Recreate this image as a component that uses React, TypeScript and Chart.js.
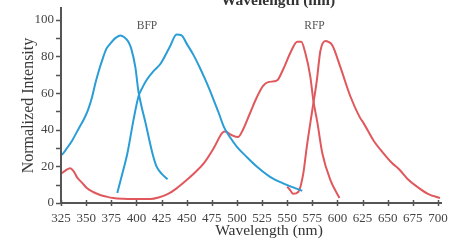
import React, { useEffect, useRef } from "react";
import { Chart, registerables } from "chart.js";

Chart.register(...registerables);

// ---- data ----
const bfpExX = [325, 327, 331, 336, 340, 344, 348, 352, 356, 359, 362, 366, 370, 374, 379, 384, 388, 392, 395, 399, 402, 405, 409, 413, 417, 420, 425, 431];
const bfpExY = [26, 27, 30, 34, 38, 42, 46, 51, 58, 65, 71, 78, 84, 87, 90, 91.5, 90.5, 88, 84, 74, 61, 53, 44, 34, 25, 20, 16, 13];

const bfpEmX = [381, 386, 391, 397, 402, 406, 410, 417, 424, 433, 440, 445, 450, 457, 463, 468, 473, 477, 482, 487, 493, 500, 510, 520, 533, 546, 556, 565];
const bfpEmY = [5.5, 16, 27, 45, 58, 63, 67, 72, 76, 85, 92, 91.5, 87, 80.6, 74, 68, 61.6, 56, 49, 41.6, 36, 30.7, 25, 19.8, 14.3, 10.7, 8.5, 6.7];

const rfpExX = [325, 330, 334, 338, 341, 346, 351, 357, 364, 370, 377, 387, 397, 405, 414, 422, 431, 440, 450, 458, 467, 477, 485, 488, 495, 501, 506, 513, 520, 526, 531, 540, 546, 554, 560, 564, 568, 573, 576, 580, 585, 593, 602];
const rfpExY = [16, 18, 19, 17, 14, 11, 8, 6, 4.4, 3.5, 2.7, 2.3, 2.2, 2.2, 2.2, 3, 4.8, 8, 12.5, 16.5, 21.6, 30, 38, 39, 37, 36, 40, 49, 58, 64, 66, 67, 73, 83, 88, 88, 82, 69, 56, 44, 27, 12.5, 2.7];

const rfpEmX = [550, 553, 556, 561, 566, 569.5, 574.5, 579.5, 583, 588, 591, 595, 603, 613, 622, 626, 636, 646, 654, 662, 670, 679, 690, 702];
const rfpEmY = [9, 7, 5, 6, 16, 30.7, 49, 67, 83, 88.5, 88, 86, 74, 58, 47, 43.6, 34, 27, 22, 18, 13, 9, 5, 2.7];

const xTicks = [325, 350, 375, 400, 425, 450, 475, 500, 525, 550, 575, 600, 625, 650, 675, 700];
const yTicks = [0, 10, 20, 30, 40, 50, 60, 70, 80, 90, 100];
const yLabels = [0, 20, 40, 60, 80, 100];

const xTitle = "Wavelength (nm)";
const yTitle = "Normalized Intensity";
const topText = "Wavelength (nm)";
const bfpLabel = "BFP";
const rfpLabel = "RFP";

const BLUE = "#2a9dd6";
const RED = "#e0585c";

const pts = (xs: number[], ys: number[]) => xs.map((x, i) => ({ x, y: ys[i] }));

const axesPlugin = {
  id: "axesPlugin",
  afterDatasetsDraw(chart: any) {
    const ctx = chart.ctx as CanvasRenderingContext2D;
    const xs = chart.scales.x;
    const ys = chart.scales.y;
    const { left, right, top, bottom } = chart.chartArea;
    ctx.save();
    // axes lines
    ctx.strokeStyle = "#555";
    ctx.lineWidth = 2;
    ctx.beginPath();
    ctx.moveTo(left, top);
    ctx.lineTo(left, bottom);
    ctx.lineTo(right, bottom);
    ctx.stroke();
    // ticks
    ctx.lineWidth = 1.5;
    ctx.beginPath();
    xTicks.forEach((v) => {
      const px = Math.round(xs.getPixelForValue(v)) + 0.5;
      ctx.moveTo(px, bottom - 3);
      ctx.lineTo(px, bottom + 3);
    });
    yTicks.forEach((v) => {
      const py = Math.round(ys.getPixelForValue(v)) + 0.5;
      ctx.moveTo(left - 5, py);
      ctx.lineTo(left, py);
    });
    ctx.stroke();
    // tick labels
    ctx.fillStyle = "#444";
    ctx.font = "13px 'Liberation Serif', serif";
    ctx.textAlign = "center";
    ctx.textBaseline = "alphabetic";
    xTicks.forEach((v) => {
      ctx.fillText(String(v), xs.getPixelForValue(v), 222);
    });
    ctx.textAlign = "right";
    ctx.textBaseline = "middle";
    yLabels.forEach((v) => {
      ctx.fillText(String(v), left - 7, ys.getPixelForValue(v));
    });
    // x title
    ctx.fillStyle = "#333";
    ctx.font = "15.5px 'Liberation Serif', serif";
    ctx.textAlign = "center";
    ctx.textBaseline = "alphabetic";
    ctx.fillText(xTitle, 269, 235);
    // top clipped title
    ctx.font = "bold 15.5px 'Liberation Serif', serif";
    ctx.fillText(topText, 278, 5);
    // y title
    ctx.save();
    ctx.translate(33, 105.5);
    ctx.rotate(-Math.PI / 2);
    ctx.font = "16px 'Liberation Serif', serif";
    ctx.fillStyle = "#3a3a3a";
    ctx.textAlign = "center";
    ctx.textBaseline = "alphabetic";
    ctx.fillText(yTitle, 0, 0);
    ctx.restore();
    // series labels
    ctx.fillStyle = "#555";
    ctx.font = "11.5px 'Liberation Serif', serif";
    ctx.textAlign = "center";
    ctx.textBaseline = "alphabetic";
    ctx.fillText(bfpLabel, 147, 29);
    ctx.fillText(rfpLabel, 314.5, 29);
    ctx.restore();
  },
};

export default function App() {
  const ref = useRef<HTMLCanvasElement | null>(null);
  useEffect(() => {
    if (!ref.current) return;
    const mk = (label: string, xs: number[], ys: number[], color: string) => ({
      label,
      data: pts(xs, ys),
      borderColor: color,
      backgroundColor: color,
      borderWidth: 2,
      pointRadius: 0,
      fill: false,
      cubicInterpolationMode: "monotone" as const,
      borderJoinStyle: "round" as const,
    });
    const chart = new Chart(ref.current, {
      type: "line",
      data: {
        datasets: [
          mk("BFP excitation", bfpExX, bfpExY, BLUE),
          mk("BFP emission", bfpEmX, bfpEmY, BLUE),
          mk("RFP excitation", rfpExX, rfpExY, RED),
          mk("RFP emission", rfpEmX, rfpEmY, RED),
        ],
      },
      options: {
        animation: false,
        responsive: false,
        layout: { padding: { left: 61, right: 12, top: 7, bottom: 37 } },
        plugins: { legend: { display: false }, tooltip: { enabled: false }, title: { display: false } },
        scales: {
          x: { type: "linear", min: 325, max: 704, display: false },
          y: { type: "linear", min: 0, max: 107, display: false },
        },
      },
      plugins: [axesPlugin],
    });
    return () => chart.destroy();
  }, []);
  return (
    <div style={{ position: "absolute", left: 0, top: 0, width: 454, height: 240, background: "#fff" }}>
      <canvas ref={ref} width={454} height={240} style={{ display: "block" }} />
    </div>
  );
}
